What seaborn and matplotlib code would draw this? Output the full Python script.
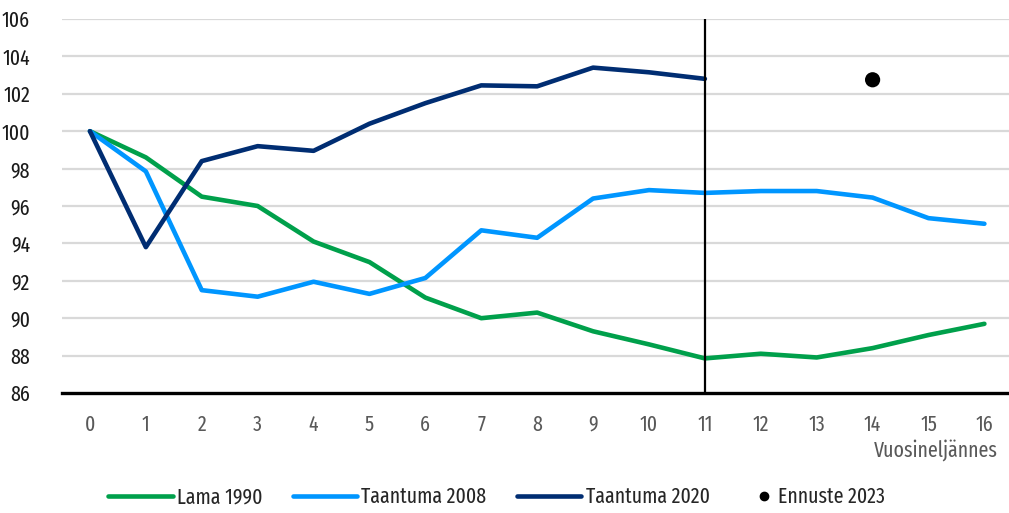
import numpy as np
import pandas as pd
import matplotlib
matplotlib.use("Agg")
import matplotlib.pyplot as plt
from matplotlib import font_manager
from matplotlib.lines import Line2D
import seaborn as sns

# Quarter index since the start of each downturn
quarters = list(range(17))

lama_1990 = [100.0, 98.6, 96.5, 96.0, 94.1, 93.0, 91.1, 90.0, 90.3, 89.3,
             88.6, 87.85, 88.1, 87.9, 88.4, 89.1, 89.7]
taantuma_2008 = [100.0, 97.85, 91.5, 91.15, 91.95, 91.3, 92.15, 94.7, 94.3, 96.4,
                 96.85, 96.7, 96.8, 96.8, 96.45, 95.35, 95.05]
taantuma_2020 = [100.0, 93.8, 98.4, 99.2, 98.95, 100.4, 101.5, 102.45, 102.4, 103.4,
                 103.15, 102.8]

ennuste_x = [14]
ennuste_2023 = [102.75]

series_names = ["Lama 1990", "Taantuma 2008", "Taantuma 2020"]
series_colors = ["#00A04B", "#0096FF", "#002D72"]

sns.set_theme(style="white")
available = {f.name for f in font_manager.fontManager.ttflist}
family = [f for f in ["Fira Sans Extra Condensed", "Fira Sans Condensed", "DejaVu Sans"]
          if f in available]
plt.rcParams["font.family"] = family

FS = 15.5

rows = []
for name, vals in zip(series_names, [lama_1990, taantuma_2008, taantuma_2020]):
    for q, v in zip(quarters, vals):
        rows.append({"Vuosineljännes": q, "Indeksi": v, "Sarja": name})
df = pd.DataFrame(rows)

fig = plt.figure(figsize=(10.09, 5.13), dpi=100)
ax = fig.add_axes([62 / 1009, 1 - 393 / 513, 1 - 62 / 1009, (393 - 19) / 513])

# horizontal grid
for yv in range(88, 107, 2):
    ax.axhline(yv, color="#D9D9D9", lw=1.6, zorder=0)

sns.lineplot(data=df, x="Vuosineljännes", y="Indeksi", hue="Sarja",
             palette=dict(zip(series_names, series_colors)), lw=3.3,
             ax=ax, legend=False, zorder=3)
ax.axvline(11, color="black", lw=1.6, zorder=4)
sns.scatterplot(x=ennuste_x, y=ennuste_2023, color="black", s=120,
                edgecolor="none", ax=ax, zorder=5)

ax.set_xlim(-0.5, 16.44)
ax.set_ylim(86, 106)
ax.set_yticks(range(86, 107, 2))
ax.set_xticks(quarters)
ax.tick_params(axis="y", length=0, labelsize=FS, labelcolor="#1A1A1A", pad=23)
ax.tick_params(axis="x", length=0, labelsize=FS, labelcolor="#595959", pad=15)
for side in ["top", "right", "left"]:
    ax.spines[side].set_visible(False)
ax.spines["bottom"].set_color("black")
ax.spines["bottom"].set_linewidth(2.4)
ax.spines["bottom"].set_zorder(6)
ax.set_xlabel("")
ax.set_ylabel("")

fig.text(998 / 1009, 1 - 450 / 513, "Vuosineljännes", ha="right", va="center",
         fontsize=FS, color="#595959")

line_handles = [Line2D([], [], color=c, lw=3.3, solid_capstyle="round")
                for c in series_colors]
leg1 = fig.legend(line_handles, series_names, loc="center left",
                  bbox_to_anchor=(108 / 1009, 1 - 497 / 513), ncol=3, frameon=False,
                  fontsize=FS, handlelength=3.0, handletextpad=0.2,
                  columnspacing=1.4, borderaxespad=0, borderpad=0)
dot_handle = [Line2D([], [], color="black", marker="o", ls="none", markersize=6)]
leg2 = fig.legend(dot_handle, ["Ennuste 2023"], loc="center left",
                  bbox_to_anchor=(756 / 1009, 1 - 497 / 513), frameon=False,
                  fontsize=FS, handlelength=0.7, handletextpad=0.3,
                  borderaxespad=0, borderpad=0)

fig.savefig("out.png", dpi=100)
